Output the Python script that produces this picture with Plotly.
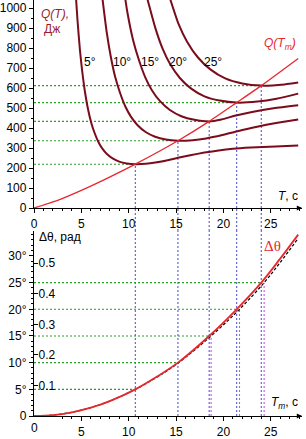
import math
import plotly.graph_objects as go

# ---------------- data ----------------
# Q(T) curves for rotation angles 5..25 degrees (T in s, Q in J)
T5 = [4.45, 4.6, 4.85, 5.1, 5.4, 5.7, 6.05, 6.4, 6.8, 7.2, 7.7, 8.3, 9.0, 9.8, 10.7,
      11.8, 12.8, 14.0, 15.2, 16.5, 18.0, 19.5, 21.0, 22.9, 25.5, 27.9]
Q5 = [1040, 935, 790, 680, 575, 495, 425, 375, 330, 298, 270, 248, 232, 223, 219,
      221, 227, 238, 251, 264, 277, 288, 296, 302, 308, 312]
T10 = [7.24, 7.67, 8.1, 8.59, 9.09, 9.66, 10.23, 10.94, 11.79, 12.79, 13.92, 15.2,
       16.76, 18.18, 19.89, 21.59, 23.44, 25.57, 27.9]
Q10 = [1043, 882, 759, 652, 575, 506, 457, 414, 380, 356, 342, 336,
       339, 348, 365, 385, 405, 425, 443]
T15 = [9.6, 9.86, 10.46, 11.07, 11.76, 12.45, 13.31, 14.35, 15.56, 16.94, 18.5,
       19.8, 21.2, 22.9, 25.3, 27.9]
Q15 = [1058, 979, 840, 741, 652, 589, 534, 490, 459, 441, 433,
       443, 461, 479, 499, 514]
T20 = [11.9, 12.1, 12.8, 13.6, 14.4, 15.4, 16.6, 18.0, 19.6, 21.4, 23.6, 25.6, 27.9]
Q20 = [1059, 1023, 902, 794, 717, 650, 597, 558, 537, 527, 532, 546, 572]
T25 = [14.36, 15.25, 16.15, 17.27, 18.62, 20.19, 21.98, 24.0, 26.47, 27.9]
Q25 = [1048, 922, 833, 755, 693, 648, 623, 612, 618, 627]
curves = [(T5, Q5), (T10, Q10), (T15, Q15), (T20, Q20), (T25, Q25)]
angle_labels = ["5°", "10°", "15°", "20°", "25°"]
label_T = [5.9, 9.3, 12.2, 15.2, 18.9]
label_Q = 731

# Q(Tm) line (locus of minima)
Tline = [0, 2.5, 5.0, 7.5, 10.7, 15.2, 18.5, 21.4, 24.0, 27.9]
Qline = [0, 38, 88, 143, 219, 336, 433, 527, 612, 748]

# optimum points
Tm = [10.7, 15.2, 18.5, 21.4, 24.0]
Qmin = [219, 336, 433, 527, 612]
theta_deg = [5, 10, 15, 20, 25]
Tm_approx = [18.7, 21.7, 24.3]
theta_approx = [15, 20, 25]

# delta theta vs Tm (degrees)
Tm_curve = [0, 2, 4, 6, 8, 10.7, 13, 15.2, 18.5, 21.4, 24.0, 26, 27.9]
dth_curve = [0, 0.17, 0.7, 1.57, 2.8, 5, 7.4, 10, 15, 20, 25, 29.5, 34]
Tm_dash = [0, 2, 4, 6, 8, 10.7, 13, 15.2, 18.7, 21.7, 24.3, 26, 27.9]
dth_dash = [0, 0.17, 0.7, 1.57, 2.8, 5, 7.3, 9.9, 15, 20, 25, 28.8, 33.3]

xticks = [0, 5, 10, 15, 20, 25]
qticks = [0, 100, 200, 300, 400, 500, 600, 700, 800, 900, 1000]
deg_ticks = [0, 5, 10, 15, 20, 25, 30]
deg_text = ["0", "5°", "10°", "15°", "20°", "25°", "30°"]
rad_ticks = [0.1, 0.2, 0.3, 0.4, 0.5]

# ---------------- styling ----------------
W, H = 306, 439
FONT = "Liberation Sans, Arial, sans-serif"
MAROON = "#7a0c1c"
RED = "#e8262e"
GREEN = "#2f9a2f"
BLUE = "#5a5ad0"
PURPLE = "#c25ad6"
X_MAX = 28.3
Q_MAX = 1040
D_MAX = 34.7
top_dom = [0.5, 1.0]
bot_dom = [0.0, 0.445]

fig = go.Figure()

for (tt, qq) in curves:
    fig.add_trace(go.Scatter(x=tt, y=qq, mode="lines", xaxis="x", yaxis="y",
                             line=dict(color=MAROON, width=2, shape="spline", smoothing=0.6),
                             showlegend=False, hoverinfo="skip", cliponaxis=True))
fig.add_trace(go.Scatter(x=Tline, y=Qline, mode="lines", xaxis="x", yaxis="y",
                         line=dict(color=RED, width=1.3, shape="spline", smoothing=0.6),
                         showlegend=False, hoverinfo="skip"))

fig.add_trace(go.Scatter(x=Tm_dash, y=dth_dash, mode="lines", xaxis="x2", yaxis="y2",
                         line=dict(color="black", width=1.2, dash="3px,2px", shape="spline"),
                         showlegend=False, hoverinfo="skip"))
fig.add_trace(go.Scatter(x=Tm_curve, y=dth_curve, mode="lines", xaxis="x2", yaxis="y2",
                         line=dict(color=RED, width=1.8, shape="spline"),
                         showlegend=False, hoverinfo="skip"))

shapes = []
dot = "2px,2px"
for t, q, d in zip(Tm, Qmin, theta_deg):
    shapes.append(dict(type="line", xref="x", yref="y", x0=0, x1=t, y0=q, y1=q,
                       line=dict(color=GREEN, width=1.1, dash=dot), layer="below"))
    shapes.append(dict(type="line", xref="x2", yref="y2", x0=0, x1=t, y0=d, y1=d,
                       line=dict(color=GREEN, width=1.1, dash=dot), layer="below"))
    shapes.append(dict(type="line", xref="x", yref="y", x0=t, x1=t, y0=0, y1=q,
                       line=dict(color=BLUE, width=1.1, dash=dot), layer="below"))
    shapes.append(dict(type="line", xref="x", yref="paper", x0=t, x1=t, y0=bot_dom[1], y1=top_dom[0],
                       line=dict(color=BLUE, width=1.1, dash=dot), layer="below"))
    shapes.append(dict(type="line", xref="x2", yref="y2 domain", x0=t, x1=t, y0=0, y1=1,
                       line=dict(color=BLUE, width=1.1, dash=dot), layer="below"))
for t, d in zip(Tm_approx, theta_approx):
    shapes.append(dict(type="line", xref="x2", yref="y2", x0=t, x1=t, y0=0, y1=d,
                       line=dict(color=PURPLE, width=1.1, dash=dot), layer="below"))

annotations = []
for lab, t in zip(angle_labels, label_T):
    annotations.append(dict(x=t, y=label_Q, xref="x", yref="y", text=lab, showarrow=False,
                            font=dict(size=12, color="black", family=FONT)))
annotations += [
    dict(x=0.5, y=972, xref="x", yref="y", xanchor="left", yanchor="middle",
         text="<i>Q(T),</i>", showarrow=False,
         font=dict(size=12, color="#9b1b30", family=FONT)),
    dict(x=0.8, y=893, xref="x", yref="y", xanchor="left", yanchor="middle",
         text="Дж", showarrow=False,
         font=dict(size=12, color="#9b1b30", family=FONT)),
    dict(x=27.9, y=748, xref="x", yref="y", xanchor="right", yanchor="bottom", yshift=4,
         text="<i>Q(T<sub>m</sub>)</i>", showarrow=False,
         font=dict(size=12, color=RED, family=FONT)),
    dict(x=X_MAX, y=0, xref="x", yref="y", xanchor="right", yanchor="bottom", yshift=3, xshift=-2,
         text="<i>T</i>, c", showarrow=False, font=dict(size=12, color="black", family=FONT)),
    dict(x=X_MAX, y=0, xref="x2", yref="y2", xanchor="right", yanchor="bottom", yshift=3, xshift=-2,
         text="<i>T<sub>m</sub></i>, c", showarrow=False, font=dict(size=12, color="black", family=FONT)),
    dict(x=0.3, y=33.5, xref="x2", yref="y2", xanchor="left", yanchor="middle",
         text="Δθ, рад", showarrow=False, font=dict(size=12, color="black", family=FONT)),
    dict(x=26.3, y=30, xref="x2", yref="y2", xanchor="right", yanchor="bottom",
         text="Δθ", showarrow=False, font=dict(size=15, color=RED, family="Liberation Serif, serif")),
    dict(x=0, y=0, xref="x2", yref="y2", xanchor="center", yanchor="top", yshift=-3,
         text="0", showarrow=False, font=dict(size=12, color="black", family=FONT)),
]
for xr, yr in (("x", "y"), ("x2", "y2")):
    annotations.append(dict(x=X_MAX, y=0, xref=xr, yref=yr, ax=-6, ay=0, showarrow=True,
                            arrowhead=2, arrowsize=0.8, arrowwidth=1.3, arrowcolor="black", text=""))

axis_common = dict(showgrid=False, zeroline=False, showline=True, linecolor="black", linewidth=1.3,
                   ticks="outside", ticklen=4, tickwidth=1.2, tickcolor="black",
                   tickfont=dict(size=12, color="black", family=FONT))

fig.update_layout(
    width=W, height=H, margin=dict(l=30, r=4, t=0, b=21),
    plot_bgcolor="white", paper_bgcolor="white", showlegend=False,
    shapes=shapes, annotations=annotations,
    xaxis=dict(domain=[0, 1], anchor="y", range=[0, X_MAX], tickvals=xticks,
               minor=dict(dtick=1, ticklen=2, ticks="outside", tickcolor="black"), **axis_common),
    yaxis=dict(domain=top_dom, anchor="x", range=[0, Q_MAX], tickvals=qticks,
               minor=dict(dtick=50, ticklen=2, ticks="outside", tickcolor="black"), **axis_common),
    xaxis2=dict(domain=[0, 1], anchor="y2", range=[0, X_MAX], tickvals=xticks,
                minor=dict(dtick=1, ticklen=2, ticks="outside", tickcolor="black"), **axis_common),
    yaxis2=dict(domain=bot_dom, anchor="x2", range=[0, D_MAX], tickvals=deg_ticks, ticktext=deg_text,
                minor=dict(dtick=1, ticklen=2, ticks="outside", tickcolor="black"), **axis_common),
    yaxis3=dict(overlaying="y2", anchor="x2", side="left", range=[0, D_MAX * math.pi / 180],
                tickvals=rad_ticks, ticks="inside", ticklen=4, tickcolor="black",
                ticklabelposition="inside", showline=False, showgrid=False, zeroline=False,
                tickfont=dict(size=12, color="black", family=FONT)),
)
fig.add_trace(go.Scatter(x=[0], y=[0], xaxis="x2", yaxis="y3", mode="markers",
                         marker=dict(size=0.1, opacity=0), showlegend=False, hoverinfo="skip"))

fig.write_html("out.html")
